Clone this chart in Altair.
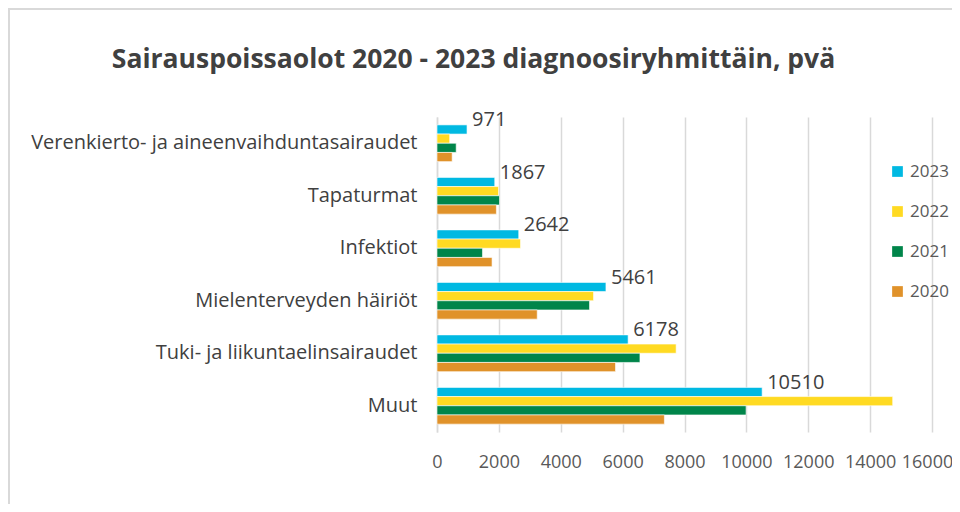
import altair as alt
import pandas as pd

categories = [
    "Verenkierto- ja aineenvaihduntasairaudet",
    "Tapaturmat",
    "Infektiot",
    "Mielenterveyden häiriöt",
    "Tuki- ja liikuntaelinsairaudet",
    "Muut",
]
years = ["2023", "2022", "2021", "2020"]
v2023 = [971, 1867, 2642, 5461, 6178, 10510]
v2022 = [410, 1990, 2700, 5060, 7730, 14730]
v2021 = [620, 2020, 1470, 4930, 6560, 9990]
v2020 = [490, 1920, 1780, 3240, 5770, 7350]
colors = ["#00B9E2", "#FFDA22", "#00854A", "#E0922A"]
x_ticks = [0, 2000, 4000, 6000, 8000, 10000, 12000, 14000, 16000]

rows = []
for yr, vals in zip(years, [v2023, v2022, v2021, v2020]):
    for c, v in zip(categories, vals):
        rows.append({"kategoria": c, "vuosi": yr, "pva": v})
df = pd.DataFrame(rows)

W, H = 495, 315
FONT = "Open Sans"

base = alt.Chart(df).encode(
    y=alt.Y("kategoria:N", sort=categories,
            scale=alt.Scale(paddingInner=0.3, paddingOuter=0.15),
            axis=alt.Axis(title=None, labelFontSize=20, labelColor="#404040",
                          labelFont=FONT, labelPadding=20, ticks=False,
                          domainColor="#d9d9d9", domainWidth=1.5, labelLimit=500)),
    yOffset=alt.YOffset("vuosi:N", sort=years),
)

bars = base.mark_bar(stroke="white", strokeWidth=0.6).encode(
    x=alt.X("pva:Q", scale=alt.Scale(domain=[0, 16000], nice=False),
            axis=alt.Axis(title=None, values=x_ticks, format="d", labelOverlap=False,
                          labelFlush=False, labelBound=False,
                          labelOffset={"condition": {"test": "datum.value == 16000", "value": -5},
                                       "value": 0},
                          labelFontSize=18, labelColor="#595959", labelFont=FONT,
                          labelPadding=21, ticks=False, domain=False,
                          gridColor="#d9d9d9", gridWidth=1.5)),
    color=alt.Color("vuosi:N", sort=years,
                    scale=alt.Scale(domain=years, range=colors),
                    legend=alt.Legend(title=None, orient="none", legendX=452, legendY=46,
                                      symbolType="square", symbolSize=115,
                                      symbolStrokeWidth=0,
                                      labelFontSize=17, labelColor="#595959",
                                      labelFont=FONT, rowPadding=22, labelOffset=4)),
)

labels = base.mark_text(align="left", baseline="middle", dx=5, dy=-9,
                        fontSize=20, font=FONT, color="#404040").encode(
    x="pva:Q",
    text=alt.Text("pva:Q", format="d"),
).transform_filter(alt.datum.vuosi == "2023")

frame_top = alt.Chart(pd.DataFrame({"a": [0]})).mark_rule(
    color="#d9d9d9", strokeWidth=2).encode(
    x=alt.value(-429), x2=alt.value(520), y=alt.value(-108))
frame_left = alt.Chart(pd.DataFrame({"a": [0]})).mark_rule(
    color="#d9d9d9", strokeWidth=2).encode(
    x=alt.value(-428), y=alt.value(-108), y2=alt.value(400))

chart = alt.layer(frame_top, frame_left, bars, labels).properties(
    width=W, height=H,
    autosize=alt.AutoSizeParams(type="none"),
    padding={"left": 429, "top": 109, "right": 20, "bottom": 72},
    title=alt.TitleParams("Sairauspoissaolot 2020 - 2023 diagnoosiryhmittäin, pvä",
                          font=FONT, fontSize=26.5, fontWeight="bold", color="#404040",
                          anchor="middle", dx=-211, offset=-65),
).configure_view(stroke=None)

chart.save("out.html", embed_options={"renderer": "svg", "actions": False})
